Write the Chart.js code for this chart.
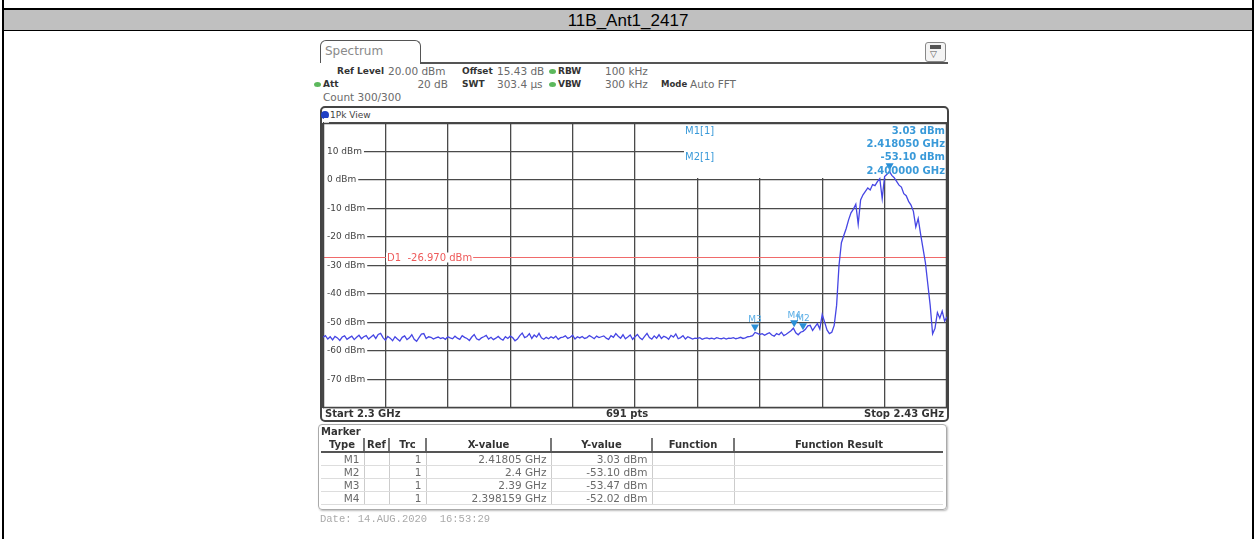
<!DOCTYPE html>
<html>
<head>
<meta charset="utf-8">
<title>11B_Ant1_2417</title>
<script src="https://cdn.jsdelivr.net/npm/chart.js@4.4.1/dist/chart.umd.min.js"></script>
<style>
  html, body { margin: 0; padding: 0; background: #fff; }
  #page { position: relative; width: 1257px; height: 539px; overflow: hidden; font-family: 'DejaVu Sans', sans-serif; }
  .abs { position: absolute; white-space: pre; line-height: 14px; }
  .lbl { font-weight: bold; font-size: 9px; color: #333; }
  .val { font-size: 10.5px; color: #6a6a6a; }
  .mk { font-weight: bold; font-size: 10px; color: #3a9ad9; }
  .bot { font-weight: bold; font-size: 10px; color: #333; }
  .dot { position: absolute; width: 7px; height: 5px; border-radius: 50%; background: #5cb85c; }
  #mtable { position: absolute; left: 321px; top: 438px; width: 622px; border-collapse: collapse; table-layout: fixed; }
  #mtable th { font-size: 10px; font-weight: bold; color: #333; height: 13px; line-height: 13px; padding: 0; border-bottom: 2px solid #555; border-right: 2px solid #777; text-align: center; }
  #mtable td { font-size: 10.5px; color: #6a6a6a; height: 12px; line-height: 12px; padding: 0 4px 0 0; border-bottom: 1px solid #ddd; border-right: 1px solid #ccc; text-align: right; white-space: nowrap; overflow: hidden; }
  #mtable tr > *:last-child { border-right: none; }
</style>
</head>
<body>
<div id="page">
  <div style="position:absolute;left:2px;top:0;width:2px;height:539px;background:#000"></div>
  <div style="position:absolute;left:1252px;top:0;width:2px;height:539px;background:#000"></div>
  <div style="position:absolute;left:2px;top:8px;width:1252px;height:2px;background:#000"></div>
  <div style="position:absolute;left:4px;top:10px;width:1248px;height:20px;background:#c0c0c0;text-align:center;font:17px 'Liberation Sans',Arial,sans-serif;line-height:21px;color:#000">11B_Ant1_2417</div>
  <div style="position:absolute;left:2px;top:30px;width:1252px;height:1px;background:#000"></div>

  <!-- tab -->
  <div style="position:absolute;left:320px;top:40px;width:101px;height:23px;box-sizing:border-box;border:1.5px solid #555;border-bottom:none;border-radius:6px 6px 0 0"></div>
  <div class="abs" style="left:325px;top:44px;font-size:12px;color:#8a8a8a">Spectrum</div>
  <div style="position:absolute;left:420px;top:62px;width:528px;height:1.5px;background:#555"></div>
  <div style="position:absolute;left:925px;top:42px;width:21px;height:20px;box-sizing:border-box;border:1px solid #888;border-radius:3px;background:#f4f4f4"></div>
  <div style="position:absolute;left:930px;top:45px;width:11px;height:4px;background:#555"></div>
  <div class="abs" style="left:930px;top:47px;font-size:9px;color:#555">&#9661;</div>

  <div id="hdr"></div>

  <!-- diagram frame -->
  <div style="position:absolute;left:320px;top:106px;width:629px;height:316px;box-sizing:border-box;border:2px solid #444;border-radius:5px"></div>
  <div style="position:absolute;left:321px;top:111px;width:8px;height:8px;border-radius:50%;background:#1f3fc4"></div>
  <div class="abs" style="left:330px;top:108px;font-size:9px;color:#444">1Pk View</div>

  <canvas id="spec" width="634" height="295" style="position:absolute;left:318px;top:118px"></canvas>

  <div id="readout"></div>

  <div class="abs bot" style="left:325px;top:407px">Start 2.3 GHz</div>
  <div class="abs bot" style="left:587px;top:407px;width:80px;text-align:center">691 pts</div>
  <div class="abs bot" style="left:824px;top:407px;width:120px;text-align:right">Stop 2.43 GHz</div>

  <!-- marker table -->
  <div style="position:absolute;left:318px;top:424px;width:629px;height:86px;box-sizing:border-box;border:1px solid #aaa;border-radius:4px;box-shadow:1px 1px 2px #bbb"></div>
  <div class="abs" style="left:321px;top:425px;font-size:10px;font-weight:bold;color:#333">Marker</div>
  <table id="mtable">
    <colgroup><col style="width:43px"><col style="width:25px"><col style="width:37px"><col style="width:125px"><col style="width:101px"><col style="width:82px"><col style="width:209px"></colgroup>
    <thead><tr><th>Type</th><th>Ref</th><th>Trc</th><th>X-value</th><th>Y-value</th><th>Function</th><th>Function Result</th></tr></thead>
    <tbody id="mbody"></tbody>
  </table>

  <div class="abs" style="left:320px;top:513px;font:10.5px 'Liberation Mono',monospace;color:#aaa">Date: 14.AUG.2020  16:53:29</div>
</div>

<script>
// sweep
const startGHz = 2.3;
const stopGHz = 2.43;
// trace level per sweep point (0.5 MHz apart)
const levelDbm = [
  -55.2,-54.6,-55.8,-55.0,-56.1,-54.9,-55.4,-56.3,-55.1,-54.7,-55.9,-55.3,-54.8,-56.0,-55.2,-54.5,-55.7,-55.0,-54.6,-55.8,
  -55.1,-54.4,-55.6,-54.2,-53.8,-55.3,-56.2,-54.9,-55.5,-56.4,-55.0,-55.8,-56.5,-55.2,-54.7,-56.0,-55.4,-54.3,-55.9,-56.6,
  -55.3,-54.1,-53.9,-55.6,-55.0,-55.2,-55.8,-55.4,-55.1,-55.6,-55.3,-55.9,-55.0,-55.4,-55.7,-54.8,-55.5,-55.9,-54.6,-55.2,
  -55.6,-56.3,-55.1,-54.2,-55.7,-56.1,-55.4,-55.0,-54.5,-55.8,-55.2,-56.0,-55.5,-54.9,-55.7,-56.2,-55.0,-55.6,-54.8,-55.3,
  -56.4,-55.8,-54.6,-53.7,-55.3,-54.9,-53.9,-55.6,-54.4,-55.1,-53.8,-55.4,-55.9,-55.2,-55.7,-55.0,-55.5,-54.8,-55.9,-55.3,
  -55.1,-54.7,-55.6,-55.2,-54.5,-55.8,-55.0,-55.4,-54.9,-55.6,-55.3,-54.6,-55.1,-55.7,-54.8,-55.3,-55.0,-54.7,-55.5,-55.9,
  -54.6,-55.2,-53.9,-54.8,-55.5,-54.3,-55.7,-55.1,-54.4,-55.9,-55.0,-54.2,-55.4,-56.0,-54.9,-53.8,-55.3,-55.8,-54.7,-55.5,
  -54.3,-55.6,-54.8,-55.2,-55.9,-54.5,-55.1,-54.0,-55.7,-55.3,-54.6,-55.8,-55.0,-55.4,-55.8,-55.5,-55.6,-55.3,-55.9,-55.6,
  -55.4,-55.7,-55.5,-55.8,-55.3,-55.6,-55.7,-55.4,-55.8,-55.5,-55.6,-55.3,-55.7,-55.5,-55.2,-55.6,-55.4,-55.0,-54.9,-54.6,
  -53.5,-53.8,-54.2,-53.9,-54.5,-54.0,-53.6,-54.4,-54.8,-53.9,-54.3,-53.4,-54.6,-54.1,-53.5,-52.9,-52.0,-53.6,-54.3,-53.4,
  -53.1,-52.4,-51.2,-51.0,-52.8,-51.5,-50.4,-52.3,-47.2,-49.8,-52.6,-53.9,-53.4,-51.0,-44.0,-30.0,-22.0,-19.5,-17.0,-14.0,
  -11.5,-10.2,-8.5,-15.5,-7.0,-5.2,-4.0,-2.8,-3.5,-1.6,-2.0,-0.6,0.5,-6.5,1.2,2.0,3.0,1.6,0.8,-0.5,
  -1.8,-2.5,-4.8,-5.5,-7.5,-8.8,-11.0,-16.5,-13.5,-19.0,-24.0,-29.0,-36.5,-44.0,-54.0,-52.0,-46.5,-48.5,-46.0,-49.5,
  -48.0
];

const refLevel = 20;
const bottomLevel = -80;
const dbPerDiv = 10;
const displayLine = -26.97;

const markerNames = ['M1', 'M2', 'M3', 'M4'];
const markerGHz = [2.41805, 2.4, 2.39, 2.398159];
const markerXText = ['2.41805 GHz', '2.4 GHz', '2.39 GHz', '2.398159 GHz'];
const markerDbm = [3.03, -53.10, -53.47, -52.02];

// header settings text
function put(parent, text, x, y, cls, extra) {
  const el = document.createElement('div');
  el.className = 'abs ' + cls;
  el.textContent = text;
  el.style.left = x + 'px';
  el.style.top = (y - 7) + 'px';
  if (extra) Object.assign(el.style, extra);
  parent.appendChild(el);
  return el;
}
const hdr = document.getElementById('hdr');
put(hdr, 'Ref Level', 337, 71, 'lbl');
put(hdr, '20.00 dBm', 388, 71, 'val');
put(hdr, 'Offset', 462, 71, 'lbl');
put(hdr, '15.43 dB', 497, 71, 'val');
put(hdr, 'RBW', 558, 71, 'lbl');
put(hdr, '100 kHz', 605, 71, 'val');
put(hdr, 'Att', 323, 84, 'lbl');
put(hdr, '20 dB', 388, 84, 'val', { width: '60px', textAlign: 'right' });
put(hdr, 'SWT', 462, 84, 'lbl');
put(hdr, '303.4 \u00b5s', 497, 84, 'val');
put(hdr, 'VBW', 558, 84, 'lbl');
put(hdr, '300 kHz', 605, 84, 'val');
put(hdr, 'Mode', 661, 84, 'lbl', { fontSize: '8.5px' });
put(hdr, 'Auto FFT', 690, 84, 'val');
put(hdr, 'Count 300/300', 323, 97, 'val');
[[549, 69], [549, 82], [314, 82]].forEach(([l, t]) => {
  const d = document.createElement('div');
  d.className = 'dot';
  d.style.left = l + 'px';
  d.style.top = t + 'px';
  hdr.appendChild(d);
});

// marker readout (top right of the diagram)
const ro = document.getElementById('readout');
put(ro, 'M1[1]', 685, 131, 'mk', { fontWeight: 'normal' });
put(ro, markerDbm[0].toFixed(2) + ' dBm', 825, 131, 'mk', { width: '120px', textAlign: 'right' });
put(ro, markerGHz[0].toFixed(6) + ' GHz', 825, 144, 'mk', { width: '120px', textAlign: 'right' });
put(ro, 'M2[1]', 685, 157, 'mk', { fontWeight: 'normal' });
put(ro, markerDbm[1].toFixed(2) + ' dBm', 825, 157, 'mk', { width: '120px', textAlign: 'right' });
put(ro, markerGHz[1].toFixed(6) + ' GHz', 825, 171, 'mk', { width: '120px', textAlign: 'right' });

// marker table
const mbody = document.getElementById('mbody');
markerNames.forEach((n, k) => {
  const tr = document.createElement('tr');
  [n, '', '1', markerXText[k], markerDbm[k].toFixed(2) + ' dBm', '', ''].forEach(c => {
    const td = document.createElement('td');
    td.textContent = c;
    tr.appendChild(td);
  });
  mbody.appendChild(tr);
});

const stepGHz = (stopGHz - startGHz) / (levelDbm.length - 1);
const trace = levelDbm.map((v, i) => ({ x: startGHz + i * stepGHz, y: v }));

const overlay = {
  id: 'overlay',
  beforeDatasetsDraw(chart) {
    const { ctx, chartArea: a, scales: { x, y } } = chart;
    ctx.save();
    // readout area hides the grid
    ctx.fillStyle = '#fff';
    ctx.fillRect(a.left + 361, a.top + 1, a.right - a.left - 362, 54);

    // display line D1
    const yd = Math.round(y.getPixelForValue(displayLine)) + 0.5;
    ctx.strokeStyle = '#f06a6a';
    ctx.lineWidth = 1.2;
    ctx.beginPath();
    ctx.moveTo(a.left, yd);
    ctx.lineTo(a.right, yd);
    ctx.stroke();
    ctx.font = '10px "DejaVu Sans"';
    ctx.textBaseline = 'middle';
    const txt = 'D1  ' + displayLine.toFixed(3) + ' dBm';
    const lx = a.left + 64;
    const w = ctx.measureText(txt).width;
    ctx.fillStyle = '#fff';
    ctx.fillRect(lx - 1, yd - 5, w + 2, 10);
    ctx.fillStyle = '#ee5a5a';
    ctx.fillText(txt, lx, yd + 1);

    // frame
    ctx.strokeStyle = '#444';
    ctx.lineWidth = 1.5;
    ctx.strokeRect(a.left + 0.5, a.top + 0.5, a.right - a.left - 1, a.bottom - a.top - 1);
    ctx.restore();
  },
  afterDatasetsDraw(chart) {
    const { ctx, scales: { x, y } } = chart;
    ctx.save();
    markerNames.forEach((n, k) => {
      const px = x.getPixelForValue(markerGHz[k]);
      const py = y.getPixelForValue(markerDbm[k]);
      ctx.fillStyle = '#2a8fd6';
      ctx.beginPath();
      ctx.moveTo(px, py - 1);
      ctx.lineTo(px - 4, py - 8);
      ctx.lineTo(px + 4, py - 8);
      ctx.closePath();
      ctx.fill();
      if (n !== 'M1') {
        ctx.fillStyle = '#5aaee6';
        ctx.font = '9px "DejaVu Sans"';
        ctx.textAlign = 'center';
        ctx.textBaseline = 'alphabetic';
        ctx.fillText(n, px, py - 10);
      }
    });
    ctx.restore();
  }
};

new Chart(document.getElementById('spec'), {
  type: 'line',
  data: {
    datasets: [{
      data: trace,
      borderColor: '#4646e4',
      borderWidth: 1.3,
      pointRadius: 0,
      tension: 0,
      fill: false
    }]
  },
  options: {
    responsive: false,
    animation: false,
    devicePixelRatio: 1,
    layout: { padding: 5 },
    plugins: { legend: { display: false }, tooltip: { enabled: false } },
    scales: {
      x: {
        type: 'linear',
        min: startGHz,
        max: stopGHz,
        ticks: { display: false, stepSize: (stopGHz - startGHz) / 10 },
        grid: { color: '#4a4a4a', lineWidth: 1.3, drawTicks: false },
        border: { display: false },
        afterFit(s) { s.height = 0; s.paddingLeft = 0; s.paddingRight = 0; }
      },
      y: {
        min: bottomLevel,
        max: refLevel,
        ticks: {
          stepSize: dbPerDiv,
          mirror: true,
          padding: 4,
          color: '#444',
          font: { family: 'DejaVu Sans', size: 9 },
          showLabelBackdrop: true,
          backdropColor: '#fff',
          backdropPadding: { top: 0, bottom: 0, left: 3, right: 2 },
          callback: v => (v < refLevel && v > bottomLevel) ? v + ' dBm' : ''
        },
        grid: { color: '#4a4a4a', lineWidth: 1.3, drawTicks: false },
        border: { display: false },
        afterFit(s) { s.width = 0; s.paddingTop = 0; s.paddingBottom = 0; }
      }
    }
  },
  plugins: [overlay]
});
</script>
</body>
</html>
